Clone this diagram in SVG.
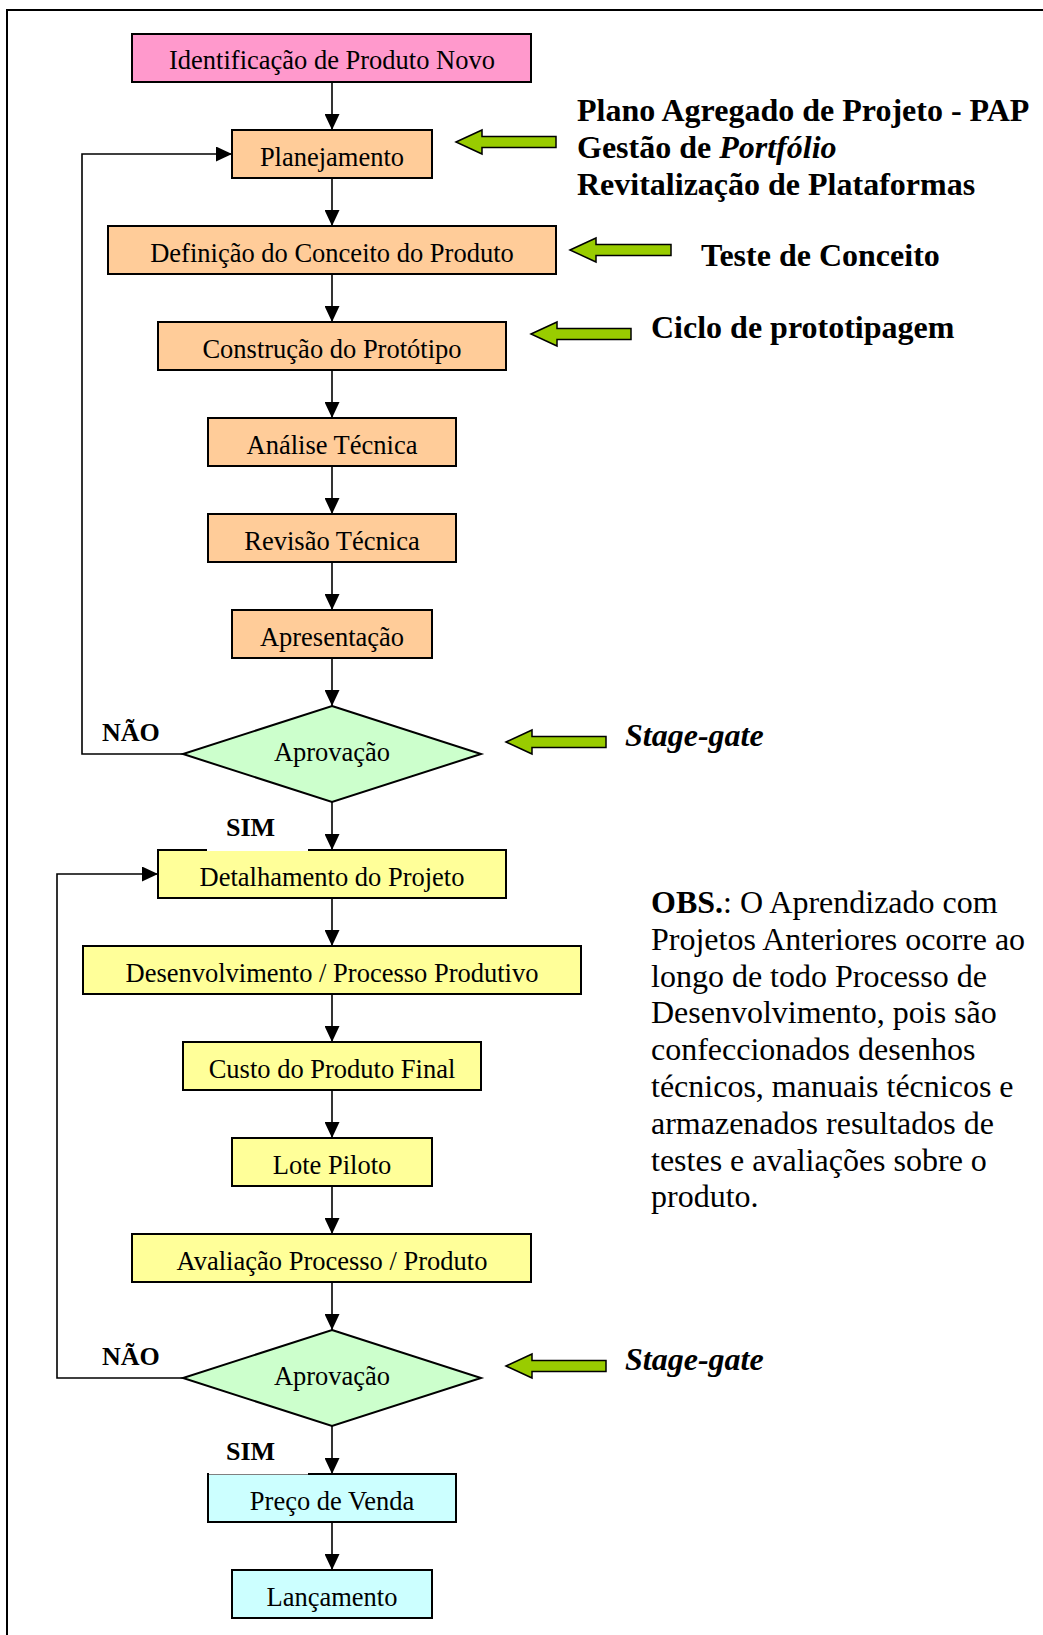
<svg xmlns="http://www.w3.org/2000/svg" width="1043" height="1635" viewBox="0 0 1043 1635">
  <style>
    .box { stroke: #000; stroke-width: 2; }
    .pink { fill: #FF99CC; }
    .orange { fill: #FFCC99; }
    .green { fill: #CCFFCC; }
    .yellow { fill: #FFFF99; }
    .cyan { fill: #CCFFFF; }
    .lbl { font-family: "Liberation Serif", "Times New Roman", serif; font-size: 26.5px; fill: #000; text-anchor: middle; }
    .yn { font-family: "Liberation Serif", "Times New Roman", serif; font-size: 26px; font-weight: bold; fill: #000; }
    .side { font-family: "Liberation Serif", "Times New Roman", serif; font-size: 32px; font-weight: bold; fill: #000; }
    .obs { font-family: "Liberation Serif", "Times New Roman", serif; font-size: 32px; fill: #000; }
    .conn { fill: none; stroke: #000; stroke-width: 1.6; }
    .garrow { fill: #99CC00; stroke: #000; stroke-width: 1.5; stroke-linejoin: miter; }
  </style>
  <defs>
    <marker id="head" markerUnits="userSpaceOnUse" markerWidth="17" markerHeight="15" refX="16" refY="7.5" orient="auto">
      <path d="M0,0 L16,7.5 L0,15 Z" fill="#000"/>
    </marker>
  </defs>

  <rect width="1043" height="1635" fill="#fff"/>
  <!-- page frame (continues past right and bottom edges) -->
  <path d="M7,1635 V10 H1043" fill="none" stroke="#000" stroke-width="2"/>

  <!-- connectors -->
  <g id="connectors">
    <path class="conn" d="M332,82 V130" marker-end="url(#head)"/>
    <path class="conn" d="M332,178 V226" marker-end="url(#head)"/>
    <path class="conn" d="M332,274 V322" marker-end="url(#head)"/>
    <path class="conn" d="M332,370 V418" marker-end="url(#head)"/>
    <path class="conn" d="M332,466 V514" marker-end="url(#head)"/>
    <path class="conn" d="M332,562 V610" marker-end="url(#head)"/>
    <path class="conn" d="M332,658 V706" marker-end="url(#head)"/>
    <path class="conn" d="M332,802 V850" marker-end="url(#head)"/>
    <path class="conn" d="M183,754 H82 V154 H232" marker-end="url(#head)"/>
    <path class="conn" d="M332,898 V946" marker-end="url(#head)"/>
    <path class="conn" d="M332,994 V1042" marker-end="url(#head)"/>
    <path class="conn" d="M332,1090 V1138" marker-end="url(#head)"/>
    <path class="conn" d="M332,1186 V1234" marker-end="url(#head)"/>
    <path class="conn" d="M332,1282 V1330" marker-end="url(#head)"/>
    <path class="conn" d="M332,1426 V1474" marker-end="url(#head)"/>
    <path class="conn" d="M183,1378 H57 V874 H158" marker-end="url(#head)"/>
    <path class="conn" d="M332,1522 V1570" marker-end="url(#head)"/>
  </g>

  <!-- process nodes -->
  <g id="n-identificacao">
    <rect class="box pink" x="132" y="34" width="399" height="48"/>
    <text class="lbl" x="332" y="68.5">Identificação de Produto Novo</text>
  </g>
  <g id="n-planejamento">
    <rect class="box orange" x="232" y="130" width="200" height="48"/>
    <text class="lbl" x="332" y="165.5">Planejamento</text>
  </g>
  <g id="n-definicao">
    <rect class="box orange" x="108" y="226" width="448" height="48"/>
    <text class="lbl" x="332" y="261.5">Definição do Conceito do Produto</text>
  </g>
  <g id="n-construcao">
    <rect class="box orange" x="158" y="322" width="348" height="48"/>
    <text class="lbl" x="332" y="357.5">Construção do Protótipo</text>
  </g>
  <g id="n-analise">
    <rect class="box orange" x="208" y="418" width="248" height="48"/>
    <text class="lbl" x="332" y="453.5">Análise Técnica</text>
  </g>
  <g id="n-revisao">
    <rect class="box orange" x="208" y="514" width="248" height="48"/>
    <text class="lbl" x="332" y="549.5">Revisão Técnica</text>
  </g>
  <g id="n-apresentacao">
    <rect class="box orange" x="232" y="610" width="200" height="48"/>
    <text class="lbl" x="332" y="645.5">Apresentação</text>
  </g>
  <g id="n-aprovacao1">
    <polygon class="box green" points="332,706 481,754 332,802 183,754"/>
    <text class="lbl" x="332" y="761">Aprovação</text>
  </g>
  <g id="n-detalhamento">
    <rect class="box yellow" x="158" y="850" width="348" height="48"/>
    <text class="lbl" x="332" y="885.5">Detalhamento do Projeto</text>
  </g>
  <g id="n-desenvolvimento">
    <rect class="box yellow" x="83" y="946" width="498" height="48"/>
    <text class="lbl" x="332" y="981.5">Desenvolvimento / Processo Produtivo</text>
  </g>
  <g id="n-custo">
    <rect class="box yellow" x="183" y="1042" width="298" height="48"/>
    <text class="lbl" x="332" y="1077.5">Custo do Produto Final</text>
  </g>
  <g id="n-lote">
    <rect class="box yellow" x="232" y="1138" width="200" height="48"/>
    <text class="lbl" x="332" y="1173.5">Lote Piloto</text>
  </g>
  <g id="n-avaliacao">
    <rect class="box yellow" x="132" y="1234" width="399" height="48"/>
    <text class="lbl" x="332" y="1269.5">Avaliação Processo / Produto</text>
  </g>
  <g id="n-aprovacao2">
    <polygon class="box green" points="332,1330 481,1378 332,1426 183,1378"/>
    <text class="lbl" x="332" y="1385">Aprovação</text>
  </g>
  <g id="n-preco">
    <rect class="box cyan" x="208" y="1474" width="248" height="48"/>
    <text class="lbl" x="332" y="1509.5">Preço de Venda</text>
  </g>
  <g id="n-lancamento">
    <rect class="box cyan" x="232" y="1570" width="200" height="48"/>
    <text class="lbl" x="332" y="1605.5">Lançamento</text>
  </g>

  <!-- branch labels (white backing cuts the box top edge) -->
  <g id="branch-labels">
    <text class="yn" x="102" y="741">NÃO</text>
    <rect x="207" y="812" width="101" height="39" fill="#fff"/>
    <text class="yn" x="226" y="836">SIM</text>
    <text class="yn" x="102" y="1365">NÃO</text>
    <rect x="209" y="1436" width="99" height="38.5" fill="#fff"/>
    <text class="yn" x="226" y="1460">SIM</text>
  </g>

  <!-- side notes with green pointer arrows -->
  <g id="note-pap">
    <polygon class="garrow" points="456,142 482,130 482,136.5 556,136.5 556,147.5 482,147.5 482,154"/>
    <text class="side" x="577" y="121">Plano Agregado de Projeto - PAP</text>
    <text class="side" x="577" y="158">Gestão de <tspan font-style="italic">Portfólio</tspan></text>
    <text class="side" x="577" y="195">Revitalização de Plataformas</text>
  </g>
  <g id="note-teste">
    <polygon class="garrow" points="570,250 596,238 596,244.5 671,244.5 671,255.5 596,255.5 596,262"/>
    <text class="side" x="701" y="266">Teste de Conceito</text>
  </g>
  <g id="note-ciclo">
    <polygon class="garrow" points="531,334 557,322 557,328.5 631,328.5 631,339.5 557,339.5 557,346"/>
    <text class="side" x="651" y="338">Ciclo de prototipagem</text>
  </g>
  <g id="note-gate1">
    <polygon class="garrow" points="506,742 532,730 532,736.5 606,736.5 606,747.5 532,747.5 532,754"/>
    <text class="side" x="625" y="746" font-style="italic">Stage-gate</text>
  </g>
  <g id="note-gate2">
    <polygon class="garrow" points="506,1366 532,1354 532,1360.5 606,1360.5 606,1371.5 532,1371.5 532,1378"/>
    <text class="side" x="625" y="1370" font-style="italic">Stage-gate</text>
  </g>

  <!-- observation text -->
  <g id="note-obs">
    <text class="obs" x="651" y="913"><tspan font-weight="bold">OBS.</tspan>: O Aprendizado com</text>
    <text class="obs" x="651" y="950">Projetos Anteriores ocorre ao</text>
    <text class="obs" x="651" y="987">longo de todo Processo de</text>
    <text class="obs" x="651" y="1023">Desenvolvimento, pois são</text>
    <text class="obs" x="651" y="1060">confeccionados desenhos</text>
    <text class="obs" x="651" y="1097">técnicos, manuais técnicos e</text>
    <text class="obs" x="651" y="1134">armazenados resultados de</text>
    <text class="obs" x="651" y="1171">testes e avaliações sobre o</text>
    <text class="obs" x="651" y="1207">produto.</text>
  </g>
</svg>
